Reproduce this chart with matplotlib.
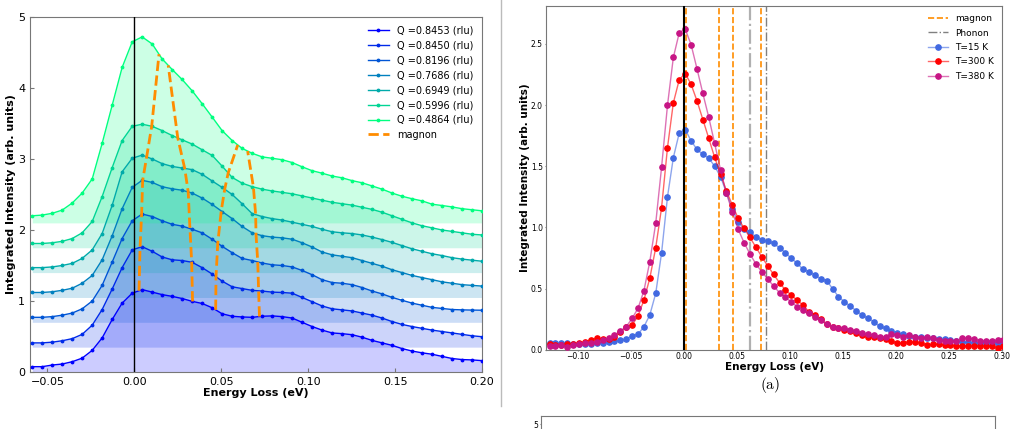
import numpy as np
import matplotlib
matplotlib.use('Agg')
import matplotlib.pyplot as plt
from matplotlib.lines import Line2D

plt.rcParams.update({
    'font.family': 'DejaVu Sans',
    'mathtext.fontset': 'cm',
})

# ---- left panel: stacked spectra (already offset) ----
energy = [-0.0587, -0.0530, -0.0472, -0.0415, -0.0357, -0.0300, -0.0242, -0.0185, -0.0127, -0.0070,
          -0.0012, 0.0045, 0.0103, 0.0160, 0.0218, 0.0275, 0.0333, 0.0390, 0.0448, 0.0505,
          0.0563, 0.0620, 0.0678, 0.0735, 0.0793, 0.0850, 0.0908, 0.0965, 0.1023, 0.1080,
          0.1138, 0.1195, 0.1253, 0.1310, 0.1368, 0.1425, 0.1483, 0.1540, 0.1598, 0.1655,
          0.1713, 0.1770, 0.1828, 0.1885, 0.1943, 0.2000]

q_values = ['0.8453', '0.8450', '0.8196', '0.7686', '0.6949', '0.5996', '0.4864']
baselines = [0.0, 0.35, 0.70, 1.05, 1.40, 1.75, 2.10]

spec_0 = [0.075, 0.075, 0.098, 0.112, 0.145, 0.195, 0.305, 0.48, 0.74, 0.97,
          1.11, 1.16, 1.125, 1.09, 1.065, 1.035, 0.995, 0.965, 0.905, 0.82,
          0.785, 0.775, 0.77, 0.785, 0.79, 0.78, 0.76, 0.70, 0.64, 0.59,
          0.55, 0.54, 0.525, 0.49, 0.445, 0.41, 0.375, 0.33, 0.295, 0.27,
          0.25, 0.22, 0.19, 0.175, 0.17, 0.16]
spec_1 = [0.41, 0.41, 0.42, 0.44, 0.47, 0.53, 0.66, 0.88, 1.17, 1.47,
          1.72, 1.765, 1.70, 1.62, 1.58, 1.57, 1.545, 1.47, 1.38, 1.28,
          1.20, 1.175, 1.15, 1.14, 1.125, 1.12, 1.11, 1.05, 0.99, 0.93,
          0.89, 0.875, 0.86, 0.83, 0.80, 0.76, 0.71, 0.67, 0.64, 0.615,
          0.59, 0.57, 0.55, 0.53, 0.51, 0.497]
spec_2 = [0.77, 0.77, 0.78, 0.80, 0.83, 0.89, 1.0, 1.22, 1.55, 1.88,
          2.13, 2.225, 2.19, 2.13, 2.08, 2.055, 2.01, 1.96, 1.87, 1.77,
          1.68, 1.60, 1.57, 1.535, 1.51, 1.50, 1.48, 1.43, 1.37, 1.30,
          1.26, 1.25, 1.23, 1.19, 1.14, 1.10, 1.05, 1.01, 0.97, 0.94,
          0.91, 0.895, 0.88, 0.875, 0.872, 0.87]
spec_3 = [1.12, 1.12, 1.13, 1.15, 1.18, 1.25, 1.36, 1.58, 1.92, 2.3,
          2.6, 2.70, 2.67, 2.61, 2.58, 2.56, 2.52, 2.45, 2.36, 2.26,
          2.16, 2.05, 1.96, 1.92, 1.90, 1.89, 1.87, 1.82, 1.76, 1.69,
          1.65, 1.63, 1.61, 1.57, 1.53, 1.49, 1.44, 1.40, 1.36, 1.33,
          1.30, 1.27, 1.25, 1.23, 1.22, 1.21]
spec_4 = [1.47, 1.47, 1.48, 1.50, 1.53, 1.60, 1.72, 1.95, 2.35, 2.82,
          3.01, 3.055, 3.0, 2.935, 2.895, 2.873, 2.85, 2.785, 2.69, 2.60,
          2.50, 2.37, 2.23, 2.19, 2.16, 2.14, 2.11, 2.08, 2.05, 2.01,
          1.975, 1.96, 1.95, 1.93, 1.90, 1.865, 1.825, 1.78, 1.735, 1.70,
          1.665, 1.64, 1.61, 1.59, 1.575, 1.56]
spec_5 = [1.81, 1.81, 1.82, 1.84, 1.88, 1.96, 2.12, 2.47, 2.88, 3.26,
          3.46, 3.49, 3.46, 3.40, 3.33, 3.27, 3.21, 3.13, 3.05, 2.90,
          2.74, 2.66, 2.61, 2.575, 2.55, 2.53, 2.51, 2.48, 2.45, 2.42,
          2.39, 2.37, 2.35, 2.32, 2.29, 2.25, 2.20, 2.15, 2.10, 2.06,
          2.03, 2.0, 1.98, 1.96, 1.94, 1.93]
spec_6 = [2.20, 2.21, 2.235, 2.28, 2.38, 2.52, 2.72, 3.22, 3.76, 4.29,
          4.65, 4.72, 4.62, 4.41, 4.26, 4.12, 3.96, 3.78, 3.59, 3.40,
          3.26, 3.15, 3.08, 3.03, 3.01, 2.99, 2.95, 2.89, 2.835, 2.80,
          2.76, 2.735, 2.695, 2.665, 2.62, 2.575, 2.52, 2.475, 2.44, 2.41,
          2.363, 2.345, 2.325, 2.30, 2.285, 2.27]
spectra = [spec_0, spec_1, spec_2, spec_3, spec_4, spec_5, spec_6]

# magnon energy per Q cut (one list per branch, Q order as above)
magnon_a = [0.0027, 0.0033, 0.0042, 0.0048, 0.0071, 0.0100, 0.0142]
magnon_b = [0.0335, 0.0330, 0.0320, 0.0310, 0.0290, 0.0250, 0.0195]
magnon_c = [0.0468, 0.0470, 0.0480, 0.0500, 0.0520, 0.0540, 0.0595]
magnon_d = [0.0720, 0.0715, 0.0710, 0.0700, 0.0698, 0.0685, 0.0652]

# ---- right panel: temperature dependence ----
energy_t = [-0.1263, -0.1208, -0.1152, -0.1097, -0.1041, -0.0986, -0.0930, -0.0875, -0.0819, -0.0764,
            -0.0708, -0.0653, -0.0597, -0.0542, -0.0486, -0.0431, -0.0375, -0.0320, -0.0264, -0.0209,
            -0.0153, -0.0098, -0.0042, 0.0014, 0.0069, 0.0125, 0.0180, 0.0236, 0.0291, 0.0347,
            0.0402, 0.0458, 0.0513, 0.0569, 0.0624, 0.0680, 0.0735, 0.0791, 0.0846, 0.0902,
            0.0957, 0.1013, 0.1068, 0.1124, 0.1179, 0.1235, 0.1290, 0.1346, 0.1401, 0.1457,
            0.1512, 0.1568, 0.1623, 0.1679, 0.1734, 0.1790, 0.1845, 0.1901, 0.1956, 0.2012,
            0.2067, 0.2123, 0.2178, 0.2234, 0.2289, 0.2345, 0.2400, 0.2456, 0.2511, 0.2567,
            0.2622, 0.2678, 0.2733, 0.2789, 0.2844, 0.2900, 0.2955, 0.3011]
int_15k = [0.052, 0.057, 0.052, 0.057, 0.047, 0.044, 0.047, 0.044, 0.052, 0.057,
           0.066, 0.074, 0.079, 0.085, 0.112, 0.126, 0.188, 0.283, 0.46, 0.79,
           1.25, 1.57, 1.773, 1.80, 1.708, 1.637, 1.596, 1.566, 1.50, 1.413,
           1.283, 1.15, 1.046, 0.983, 0.959, 0.923, 0.896, 0.888, 0.869, 0.833,
           0.793, 0.747, 0.706, 0.657, 0.637, 0.61, 0.58, 0.564, 0.50, 0.433,
           0.392, 0.357, 0.319, 0.283, 0.257, 0.229, 0.19, 0.175, 0.153, 0.134,
           0.126, 0.112, 0.106, 0.101, 0.098, 0.093, 0.085, 0.085, 0.079, 0.074,
           0.066, 0.06, 0.057, 0.052, 0.052, 0.057, 0.052, 0.05]
int_300k = [0.047, 0.038, 0.038, 0.047, 0.047, 0.052, 0.066, 0.079, 0.093, 0.085,
            0.085, 0.101, 0.147, 0.183, 0.202, 0.275, 0.406, 0.583, 0.833, 1.16,
            1.653, 2.018, 2.209, 2.258, 2.17, 2.034, 1.882, 1.727, 1.572, 1.435,
            1.297, 1.182, 1.073, 0.992, 0.918, 0.837, 0.76, 0.684, 0.616, 0.547,
            0.488, 0.447, 0.403, 0.365, 0.31, 0.28, 0.25, 0.21, 0.188, 0.175,
            0.165, 0.153, 0.136, 0.12, 0.106, 0.106, 0.093, 0.085, 0.074, 0.052,
            0.057, 0.066, 0.066, 0.057, 0.038, 0.044, 0.044, 0.038, 0.038, 0.033,
            0.033, 0.033, 0.033, 0.033, 0.033, 0.03, 0.016, 0.033]
int_380k = [0.033, 0.033, 0.035, 0.025, 0.038, 0.047, 0.052, 0.057, 0.066, 0.079,
            0.093, 0.12, 0.153, 0.188, 0.256, 0.338, 0.482, 0.719, 1.033, 1.49,
            1.999, 2.389, 2.593, 2.62, 2.495, 2.296, 2.095, 1.899, 1.686, 1.468,
            1.278, 1.127, 0.983, 0.874, 0.782, 0.70, 0.637, 0.578, 0.52, 0.466,
            0.428, 0.39, 0.351, 0.324, 0.297, 0.27, 0.243, 0.21, 0.188, 0.18,
            0.175, 0.165, 0.155, 0.139, 0.126, 0.12, 0.106, 0.106, 0.126, 0.12,
            0.106, 0.12, 0.106, 0.098, 0.101, 0.093, 0.079, 0.071, 0.074, 0.074,
            0.093, 0.098, 0.085, 0.074, 0.074, 0.074, 0.079, 0.079]
temp_labels = ['T=15 K', 'T=300 K', 'T=380 K']
temp_colors = ['royalblue', 'red', 'mediumvioletred']
magnon_lines = [0.002, 0.033, 0.0465, 0.0723]
phonon_lines = [0.0622, 0.077]

fig = plt.figure(figsize=(10.16, 4.29), dpi=100)

# ================= left =================
ax1 = fig.add_axes([0.02953, 0.13287, 0.44488, 0.82751])
cols = plt.cm.winter(np.linspace(0, 1, len(spectra)))
for i, (spec, base) in enumerate(zip(spectra, baselines)):
    ax1.fill_between(energy, base, spec, color=cols[i], alpha=0.2, lw=0, zorder=1)
for i, spec in enumerate(spectra):
    ax1.plot(energy, spec, '.-', color=cols[i], lw=1.0, ms=3.5,
             label=f'Q ={q_values[i]} (rlu)', zorder=3)
for j, mode in enumerate([magnon_a, magnon_b, magnon_c, magnon_d]):
    ys = [np.interp(m, energy, spectra[i]) for i, m in enumerate(mode)]
    ax1.plot(mode, ys, '--', color='darkorange', lw=2, zorder=4,
             label='magnon' if j == 0 else None)
ax1.axvline(0, color='black', lw=1, zorder=5)
ax1.set_xlim(-0.06, 0.2)
ax1.set_ylim(0, 5)
ax1.set_xticks([-0.05, 0, 0.05, 0.1, 0.15, 0.2])
ax1.set_yticks([0, 1, 2, 3, 4, 5])
ax1.tick_params(labelsize=8, direction='in', length=3, color='#777777')
for sp in ax1.spines.values():
    sp.set_color('#777777')
ax1.set_xlabel('Energy Loss (eV)', fontsize=8, fontweight='bold')
ax1.set_ylabel('Integrated Intensity (arb. units)', fontsize=8, fontweight='bold')
ax1.xaxis.set_label_coords(0.5, -0.045)
ax1.yaxis.set_label_coords(-0.030, 0.5)
ax1.legend(loc='upper right', frameon=False, fontsize=7, handlelength=2.2)

# ================= right =================
ax2 = fig.add_axes([0.53711, 0.18485, 0.44941, 0.80116])
for k, x in enumerate(magnon_lines):
    ax2.axvline(x, color='darkorange', ls='--', lw=1.2, label='magnon' if k == 0 else None, zorder=2)
ax2.axvline(phonon_lines[0], color='#b0b0b0', ls='-.', lw=1.6, zorder=2)
ax2.axvline(phonon_lines[1], color='#808080', ls='-.', lw=1.0, label='Phonon', zorder=2)
for ys, lab, c in zip([int_15k, int_300k, int_380k], temp_labels, temp_colors):
    rgb = matplotlib.colors.to_rgb(c)
    ax2.plot(energy_t, ys, '-o', color=(*rgb, 0.6), mfc=c, mec=c, ms=3.8, lw=1.0,
             label=lab, zorder=3)
ax2.axvline(0, color='black', lw=1.5, zorder=4)
ax2.set_xlim(-0.13, 0.30)
ax2.set_ylim(0, 2.81)
ax2.set_xticks(np.arange(-0.10, 0.301, 0.05))
ax2.set_yticks([0.0, 0.5, 1.0, 1.5, 2.0, 2.5])
ax2.tick_params(labelsize=5.5, direction='out', length=1, color='#777777', pad=1)
for sp in ax2.spines.values():
    sp.set_color('#777777')
ax2.set_xlabel('Energy Loss (eV)', fontsize=7.5, fontweight='bold')
ax2.set_ylabel('Integrated Intensity (arb. units)', fontsize=7.5, fontweight='bold')
ax2.xaxis.set_label_coords(0.5, -0.036)
ax2.yaxis.set_label_coords(-0.0344, 0.5)
ax2.legend(loc='upper right', frameon=False, fontsize=6.5, handlelength=2.2, labelspacing=0.6)

fig.text(770 / 1016, 1 - 385 / 429, r'$\mathrm{(a)}$', fontsize=11, ha='center', va='center')

# separator and the top of the next panel
fig.add_artist(Line2D([501 / 1016, 501 / 1016], [1, 1 - 406 / 429], color='#bbbbbb', lw=1))
ax3 = fig.add_axes([541 / 1016, 1 - 416 / 429 - 0.8, 454 / 1016, 0.8])
ax3.set_ylim(0, 5.12)
ax3.set_yticks([5])
ax3.set_xticks([])
ax3.tick_params(labelsize=5.5, direction='out', length=1, color='#777777', pad=1)
for sp in ax3.spines.values():
    sp.set_color('#777777')

fig.savefig('out.png', dpi=100)
